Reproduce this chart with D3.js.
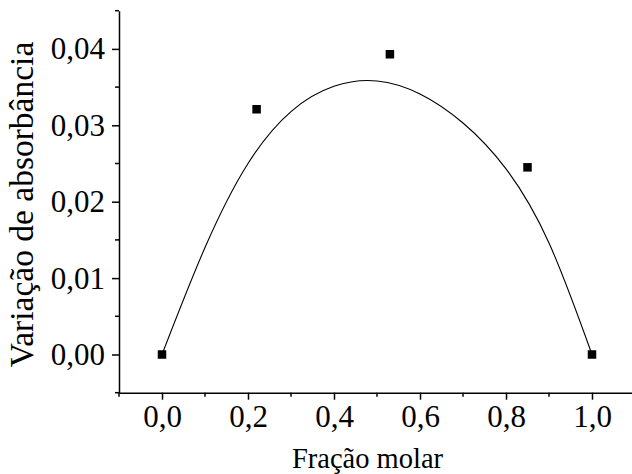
<!DOCTYPE html>
<html>
<head>
<meta charset="utf-8">
<script src="https://cdn.jsdelivr.net/npm/d3@7"></script>
<style>
  html, body { margin: 0; padding: 0; background: #fff; }
  svg { display: block; }
</style>
</head>
<body>
<svg id="chart" width="632" height="474"></svg>
<script>
// ---- data ----
const fracaoMolar = [0, 0.22, 0.53, 0.85, 1.0];
const variacaoAbs = [0, 0.0321, 0.0393, 0.0245, 0.0];

// fitted curve
const curveX = [0, 0.1, 0.2, 0.3, 0.4, 0.5, 0.6, 0.7, 0.8, 0.9, 1.0];
const curveY = [0, 0.0140, 0.0250, 0.0318, 0.0351, 0.0358, 0.0341, 0.0303, 0.0243, 0.0146, 0.0];

const xMajorTicks = [0, 0.2, 0.4, 0.6, 0.8, 1.0];
const xTickLabels = ["0,0", "0,2", "0,4", "0,6", "0,8", "1,0"];
const xMinorTicks = [-0.1, 0.1, 0.3, 0.5, 0.7, 0.9, 1.1];
const yMajorTicks = [0, 0.01, 0.02, 0.03, 0.04];
const yTickLabels = ["0,00", "0,01", "0,02", "0,03", "0,04"];
const yMinorTicks = [-0.005, 0.005, 0.015, 0.025, 0.035, 0.045];

const xTitle = "Fração molar";
const yTitle = "Variação de absorbância";

// ---- layout ----
const FONT = "'Liberation Serif', 'Times New Roman', Times, serif";
const svg = d3.select("#chart");
const mLeft = 119, mRight = 635, mTop = 10.7, mBottom = 392.7;

const x = d3.scaleLinear().domain([-0.1, 1.1]).range([mLeft, mRight]);
const y = d3.scaleLinear().domain([-0.005, 0.045]).range([mBottom, mTop]);

const FS = 31;

// x axis
const xAxis = d3.axisBottom(x)
  .tickValues(xMajorTicks)
  .tickFormat((d, i) => xTickLabels[i])
  .tickSize(7).tickSizeOuter(0).tickPadding(5.5);
const gx = svg.append("g").attr("transform", `translate(0,${mBottom})`).call(xAxis);
gx.select(".domain").attr("stroke-width", 1.5);
gx.selectAll(".tick line").attr("stroke-width", 1.5);
gx.selectAll("text").style("font-family", FONT).style("font-size", FS + "px").style("fill", "#000");
gx.selectAll(".minor").data(xMinorTicks).enter().append("line")
  .attr("class", "minor")
  .attr("x1", d => x(d)).attr("x2", d => x(d))
  .attr("y1", 0).attr("y2", 4)
  .attr("stroke", "#000").attr("stroke-width", 1.5);

// y axis
const yAxis = d3.axisLeft(y)
  .tickValues(yMajorTicks)
  .tickFormat((d, i) => yTickLabels[i])
  .tickSize(7).tickSizeOuter(0).tickPadding(7);
const gy = svg.append("g").attr("transform", `translate(${mLeft},0)`).call(yAxis);
gy.select(".domain").attr("stroke-width", 1.5);
gy.selectAll(".tick line").attr("stroke-width", 1.5);
gy.selectAll("text").style("font-family", FONT).style("font-size", FS + "px").style("fill", "#000");
gy.selectAll(".minor").data(yMinorTicks).enter().append("line")
  .attr("class", "minor")
  .attr("y1", d => y(d)).attr("y2", d => y(d))
  .attr("x1", 0).attr("x2", -4)
  .attr("stroke", "#000").attr("stroke-width", 1.5);

svg.selectAll(".domain").attr("stroke", "#000");
svg.selectAll(".tick line").attr("stroke", "#000");

// fitted curve
const curvePts = curveX.map((d, i) => [d, curveY[i]]);
svg.append("path")
  .datum(curvePts)
  .attr("fill", "none")
  .attr("stroke", "#000")
  .attr("stroke-width", 1.1)
  .attr("d", d3.line().x(d => x(d[0])).y(d => y(d[1])).curve(d3.curveNatural));

// data points
const pts = fracaoMolar.map((d, i) => [d, variacaoAbs[i]]);
const sq = 8.5;
svg.selectAll(".pt").data(pts).enter().append("rect")
  .attr("class", "pt")
  .attr("x", d => x(d[0]) - sq / 2)
  .attr("y", d => y(d[1]) - sq / 2)
  .attr("width", sq).attr("height", sq)
  .attr("fill", "#000");

// titles
svg.append("text")
  .attr("x", 367.5).attr("y", 467.5)
  .attr("text-anchor", "middle")
  .style("font-family", FONT)
  .style("font-size", "28.5px")
  .text(xTitle);

svg.append("text")
  .attr("transform", `translate(33,204.5) rotate(-90)`)
  .attr("text-anchor", "middle")
  .style("font-family", FONT)
  .style("font-size", "33.5px")
  .text(yTitle);
</script>
</body>
</html>
